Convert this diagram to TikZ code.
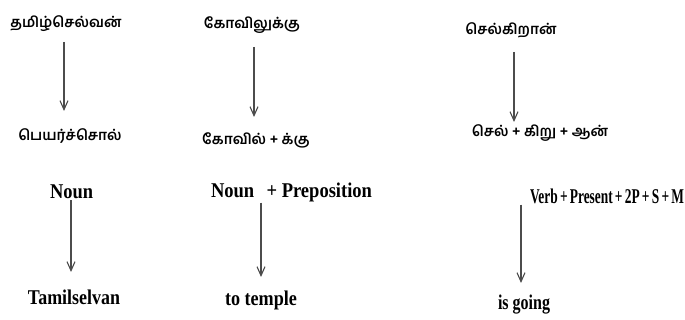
\documentclass[tikz,border=0pt]{standalone}
\usepackage{fontspec}
\usepackage{graphicx}
\setmainfont{Liberation Serif}
\newfontfamily\tamilfont[Script=Tamil]{Hind Madurai}
\usetikzlibrary{arrows.meta}

% squeeze a gloss to the width it has in the figure
\newcommand{\fitw}[2]{\resizebox{#1}{\height}{#2}}

\tikzset{
  tam/.style={font=\tamilfont\bfseries\fontsize{14.5}{16}\selectfont, inner sep=1pt},
  gloss/.style={font=\bfseries\fontsize{21}{24}\selectfont, inner sep=1pt},
  arr/.style={draw=black!70, line width=1.1pt, -{Straight Barb[length=9pt,width=8pt]}}
}

\begin{document}
\begin{tikzpicture}[x=1pt,y=-1pt]
  \useasboundingbox (0,0) rectangle (685,320);
  % first column
  \node[tam] (tamilselvan) at (66,24) {தமிழ்செல்வன்};
  \node[tam] (peyarchol) at (70,136) {பெயர்ச்சொல்};
  \node[gloss] (noun) at (71.5,192) {\fitw{43pt}{Noun}};
  \node[gloss] (tamilselvanen) at (74,297) {\fitw{92pt}{Tamilselvan}};
  \draw[arr] (64,42) -- (64,111);
  \draw[arr] (noun.south -| 71,0) -- (71,272);
  % second column
  \node[tam] (kovilukku) at (252,25) {கோவிலுக்கு};
  \node[tam] (kovilkku) at (256,140) {கோவில் + க்கு};
  \node[gloss] (nounprep) at (291.5,192) {\fitw{161pt}{Noun\hspace{14pt}+ Preposition}};
  \node[gloss] (totemple) at (261,300) {\fitw{72pt}{to temple}};
  \draw[arr] (254,47) -- (254,117);
  \draw[arr] (totemple.north |- nounprep.south) -- (totemple.north |- 0,277);
  % third column
  \node[gloss] (verb) at (607,196) {\fitw{154pt}{Verb\,+\,Present\,+\,2P\,+\,S\,+\,M}};
  \node[tam] (selkiraan) at (511,30) {செல்கிறான்};
  \node[tam] (selkiruaan) at (540,133) {செல் + கிறு + ஆன்};
  \node[gloss] (isgoing) at (524,305) {\fitw{52pt}{is going}};
  \draw[arr] (514,52) -- (514,122);
  \draw[arr] (verb.south -| 521,0) -- (521,283);
\end{tikzpicture}
\end{document}
